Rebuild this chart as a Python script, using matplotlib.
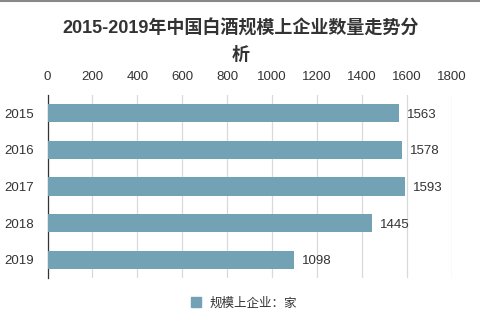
import matplotlib.pyplot as plt
from matplotlib.lines import Line2D

plt.rcParams['font.family'] = ['Liberation Sans', 'Noto Sans CJK SC', 'DejaVu Sans']

years = ["2015", "2016", "2017", "2018", "2019"]
counts = [1563, 1578, 1593, 1445, 1098]
x_ticks = [0, 200, 400, 600, 800, 1000, 1200, 1400, 1600, 1800]

bar_color = "#74a2b5"
txt = "#333333"

fig = plt.figure(figsize=(4.81, 3.21), dpi=100)
ax = fig.add_axes([0.0988, 0.134, 0.8409, 0.570])

pos = list(range(len(years)))
ax.barh(pos, counts, height=0.5, color=bar_color, zorder=3)
ax.set_ylim(len(years) - 0.5, -0.5)
ax.set_yticks(pos)
ax.set_yticklabels(years, fontsize=9.5, color=txt)
ax.set_xlim(0, 1800)
ax.set_xticks(x_ticks)
ax.set_xticklabels([str(t) for t in x_ticks], fontsize=9.5, color=txt)
ax.xaxis.tick_top()
ax.tick_params(axis="x", length=0, pad=9)
ax.tick_params(axis="y", length=0, pad=10)
ax.grid(axis="x", color="#d9d9d9", linewidth=0.9, zorder=0)
for s in ["top", "right", "bottom"]:
    ax.spines[s].set_visible(False)
ax.spines["left"].set_color(txt)
ax.spines["left"].set_linewidth(0.9)

for p, v in zip(pos, counts):
    ax.text(v + 35, p, str(v), va="center_baseline", ha="left", fontsize=9.5, color=txt)

fig.text(0.5, 0.912, "2015-2019年中国白酒规模上企业数量走势分", ha="center", va="center",
         fontsize=13, fontweight="bold", color=txt)
fig.text(0.5, 0.828, "析", ha="center", va="center",
         fontsize=13, fontweight="bold", color=txt)

handle = Line2D([], [], marker="s", linestyle="", color=bar_color, markersize=7)
fig.legend([handle], ["规模上企业：家"], loc="center", bbox_to_anchor=(0.5, 0.055),
           frameon=False, fontsize=9, handletextpad=0.05, labelcolor=txt)

fig.add_artist(Line2D([0, 1], [0.997, 0.997], color="#888888", linewidth=1.5,
                      transform=fig.transFigure))

fig.savefig("out.png", dpi=100)
